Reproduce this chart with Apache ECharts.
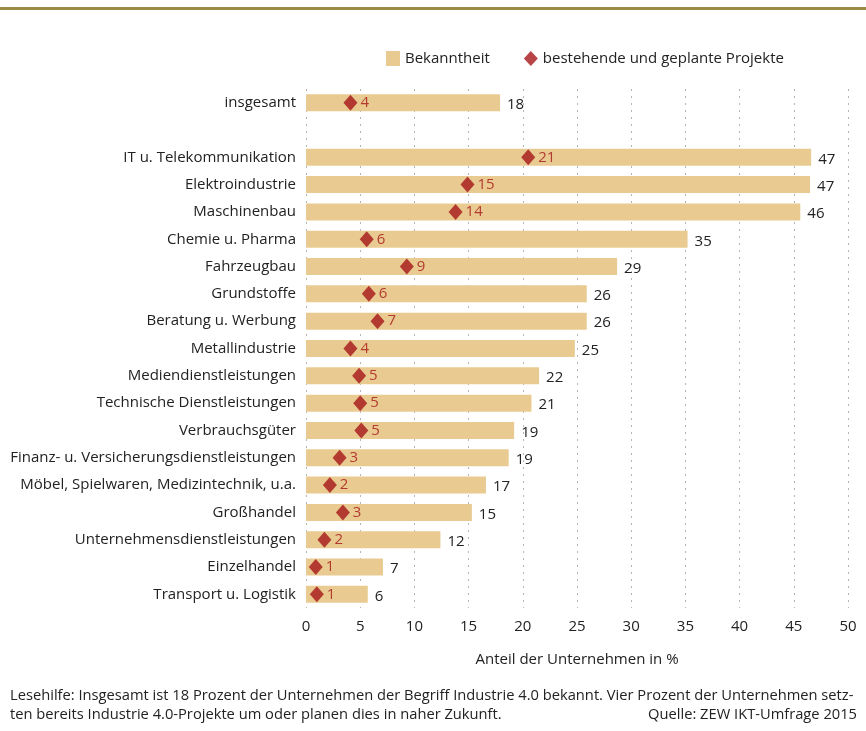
<!DOCTYPE html>
<html>
<head>
<meta charset="utf-8">
<script src="https://cdn.jsdelivr.net/npm/echarts@6/dist/echarts.min.js"></script>
<style>
  html, body { margin: 0; padding: 0; background: #fff; }
  #main { width: 866px; height: 731px; }
</style>
</head>
<body>
<div id="main"></div>
<script>
// Branchen (leerer Eintrag = Abstand nach "insgesamt")
const categories = [
  "insgesamt", "",
  "IT u. Telekommunikation", "Elektroindustrie", "Maschinenbau",
  "Chemie u. Pharma", "Fahrzeugbau", "Grundstoffe", "Beratung u. Werbung",
  "Metallindustrie", "Mediendienstleistungen", "Technische Dienstleistungen",
  "Verbrauchsgüter", "Finanz- u. Versicherungsdienstleistungen",
  "Möbel, Spielwaren, Medizintechnik, u.a.", "Großhandel",
  "Unternehmensdienstleistungen", "Einzelhandel", "Transport u. Logistik"
];
// Bekanntheit (Balkenlänge) und Beschriftung
const bekanntheit = [17.9, null, 46.6, 46.5, 45.6, 35.2, 28.7, 25.9, 25.9, 24.8, 21.5, 20.8, 19.2, 18.7, 16.6, 15.3, 12.4, 7.1, 5.7];
const bekanntheitLabel = [18, null, 47, 47, 46, 35, 29, 26, 26, 25, 22, 21, 19, 19, 17, 15, 12, 7, 6];
// bestehende und geplante Projekte
const projekte = [4.1, null, 20.5, 14.9, 13.8, 5.6, 9.3, 5.8, 6.6, 4.1, 4.9, 5.0, 5.1, 3.1, 2.2, 3.4, 1.7, 0.9, 1.0];
const projekteLabel = [4, null, 21, 15, 14, 6, 9, 6, 7, 4, 5, 5, 5, 3, 2, 3, 2, 1, 1];
const xTicks = { min: 0, max: 50, interval: 5 };

const FONT = "'Open Sans', 'Noto Sans', sans-serif";
const BAR_COLOR = "#e9cb91";
const RED = "#a51518";
const TEXT = "#222";

const chart = echarts.init(document.getElementById("main"));

const barData = bekanntheit.map((v, i) => (v == null ? null : { value: v, lbl: bekanntheitLabel[i] }));
const scatterData = [];
projekte.forEach((v, i) => {
  if (v != null) scatterData.push({ value: [v, categories[i]], lbl: projekteLabel[i] });
});

chart.setOption({
  animation: false,
  textStyle: { fontFamily: FONT },
  legend: {
    top: 46,
    left: 381,
    itemWidth: 14,
    itemHeight: 15,
    itemGap: 34,
    textStyle: { fontSize: 15, color: TEXT, fontFamily: FONT },
    data: [
      { name: "Bekanntheit", icon: "rect" },
      { name: "bestehende und geplante Projekte", icon: "diamond" }
    ]
  },
  grid: { left: 306, right: 18, top: 89, bottom: 123, containLabel: false },
  xAxis: {
    type: "value",
    min: xTicks.min,
    max: xTicks.max,
    interval: xTicks.interval,
    name: "Anteil der Unternehmen in %",
    nameLocation: "middle",
    nameGap: 44,
    nameTextStyle: { fontSize: 15, color: TEXT, fontFamily: FONT },
    axisLine: { show: false },
    axisTick: { show: false },
    axisLabel: { fontSize: 15, color: TEXT, margin: 11, fontFamily: FONT },
    splitLine: { show: true, lineStyle: { color: "#b5b5b5", type: [2, 5], width: 1 } }
  },
  yAxis: {
    type: "category",
    inverse: true,
    data: categories,
    axisLine: { show: false },
    axisTick: { show: false },
    axisLabel: { fontSize: 15, color: TEXT, margin: 10, fontFamily: FONT },
    splitLine: { show: false }
  },
  series: [
    {
      name: "Bekanntheit",
      type: "bar",
      barWidth: 17,
      itemStyle: { color: BAR_COLOR },
      z: 2,
      label: {
        show: true,
        position: "right",
        distance: 7,
        offset: [0, 2],
        fontSize: 15,
        color: TEXT,
        fontFamily: FONT,
        formatter: (p) => p.data.lbl
      },
      data: barData
    },
    {
      name: "bestehende und geplante Projekte",
      type: "scatter",
      symbol: "diamond",
      symbolSize: [14, 16],
      itemStyle: { color: RED },
      z: 3,
      label: {
        show: true,
        position: "right",
        distance: 3,
        fontSize: 15,
        color: RED,
        fontFamily: FONT,
        formatter: (p) => p.data.lbl
      },
      data: scatterData
    }
  ],
  graphic: [
    {
      type: "rect",
      shape: { x: 0, y: 7, width: 866, height: 3 },
      style: { fill: "#9b8a45" }
    },
    {
      type: "text",
      left: 10,
      top: 688,
      style: {
        text: "Lesehilfe: Insgesamt ist 18 Prozent der Unternehmen der Begriff Industrie 4.0 bekannt. Vier Prozent der Unternehmen setz-",
        fontSize: 14.7, fill: TEXT, fontFamily: FONT
      }
    },
    {
      type: "text",
      left: 10,
      top: 707,
      style: {
        text: "ten bereits Industrie 4.0-Projekte um oder planen dies in naher Zukunft.",
        fontSize: 14.7, fill: TEXT, fontFamily: FONT
      }
    },
    {
      type: "text",
      right: 9,
      top: 707,
      style: {
        text: "Quelle: ZEW IKT-Umfrage 2015",
        fontSize: 14.7, fill: TEXT, fontFamily: FONT
      }
    }
  ]
});
</script>
</body>
</html>
